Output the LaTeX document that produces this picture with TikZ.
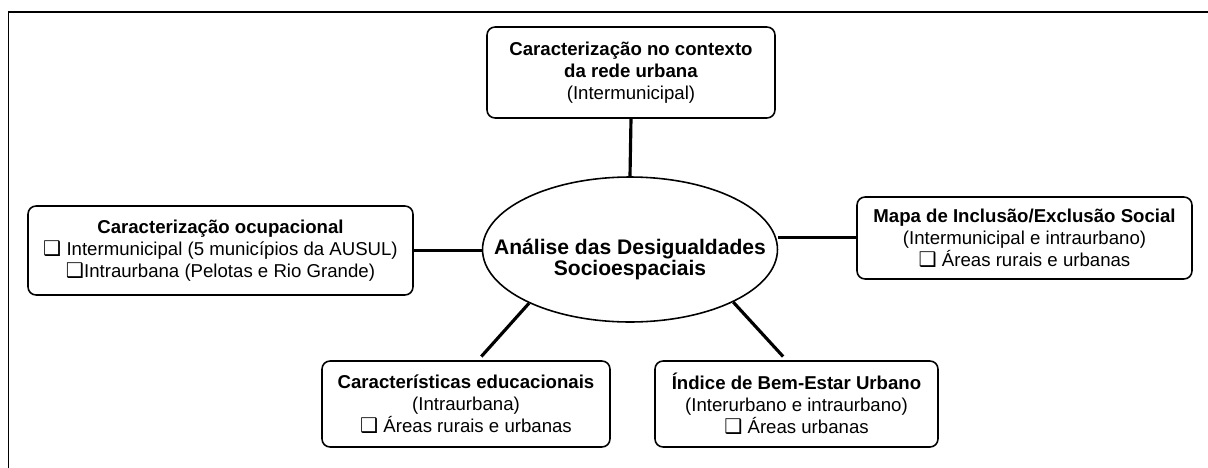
\documentclass[tikz,border=0pt]{standalone}
\usepackage{fontspec}
\setmainfont{Liberation Sans}
\newfontfamily\boxsymbol{DejaVu Sans}
\usetikzlibrary{shapes.geometric}
\tikzstyle{block} = [rectangle, rounded corners=0.16cm, minimum width=5.76cm, minimum height=1.75cm, align=center, inner sep=0pt, line width=0.9pt, draw=black, font=\fontsize{10.6}{12.5}\selectfont]
\tikzstyle{hub} = [ellipse, draw=black, line width=0.9pt, minimum width=5.9cm, minimum height=2.9cm, inner sep=0pt]
\tikzstyle{link} = [line width=1.8pt]
\newcommand{\chk}{{\boxsymbol\fontsize{11.5}{12.5}\selectfont ❑}}
\newcommand{\gap}{0.1cm}

\begin{document}
\begin{tikzpicture}[x=0.02cm, y=-0.02cm]

  \useasboundingbox (0,0) rectangle (1208,467);

  % Frame
  \draw [line width=1.1pt] (8.5,480) -- (8.5,12) -- (1220,12);

  % Centre
  \node [hub] (analise) at (630,249.5) {};
  \node [align=center, inner sep=0pt, font=\fontsize{12}{12}\selectfont\bfseries] (analisetitle) at (630,259) {Análise das Desigualdades\\Socioespaciais};

  % Rede urbana
  \node [block, minimum height=1.82cm] (rede) at (631,72.5) {\textbf{Caracterização no contexto}\\\textbf{da rede urbana}\\(Intermunicipal)};

  % Ocupacional
  \node [block, minimum width=7.7cm, minimum height=1.78cm] (ocupacional) at (220.5,250.5) {\textbf{Caracterização ocupacional}\\\chk\ Intermunicipal (5 municípios da AUSUL)\\\chk Intraurbana (Pelotas e Rio Grande)};

  % Inclusao/Exclusao
  \node [block, minimum width=6.7cm, minimum height=1.64cm] (mapa) at (1024.5,238) {\textbf{Mapa de Inclusão/Exclusão Social}\\(Intermunicipal e intraurbano)\\\chk\ Áreas rurais e urbanas};

  % Educacao
  \node [block, minimum height=1.72cm] (educacao) at (466,404) {\textbf{Características educacionais}\\(Intraurbana)\\\chk\ Áreas rurais e urbanas};

  % Bem-estar
  \node [block, minimum width=5.66cm, minimum height=1.72cm] (indice) at (796.5,404) {\textbf{Índice de Bem-Estar Urbano}\\(Interurbano e intraurbano)\\\chk\ Áreas urbanas};

  % Links
  \draw [link] (rede.south) -- (analise.north);
  \draw [link] (ocupacional.east) -- (analise.west |- ocupacional.east);
  \draw [link] ([yshift=0.01cm]analise.east |- mapa.west) -- ([yshift=0.01cm]mapa.west);
  \draw [link, shorten >=\gap] (analise.208) -- ([xshift=0.24cm]educacao.north);
  \draw [link, shorten >=\gap] (analise.-27) -- ([xshift=-0.2cm]indice.north);

\end{tikzpicture}
\end{document}
